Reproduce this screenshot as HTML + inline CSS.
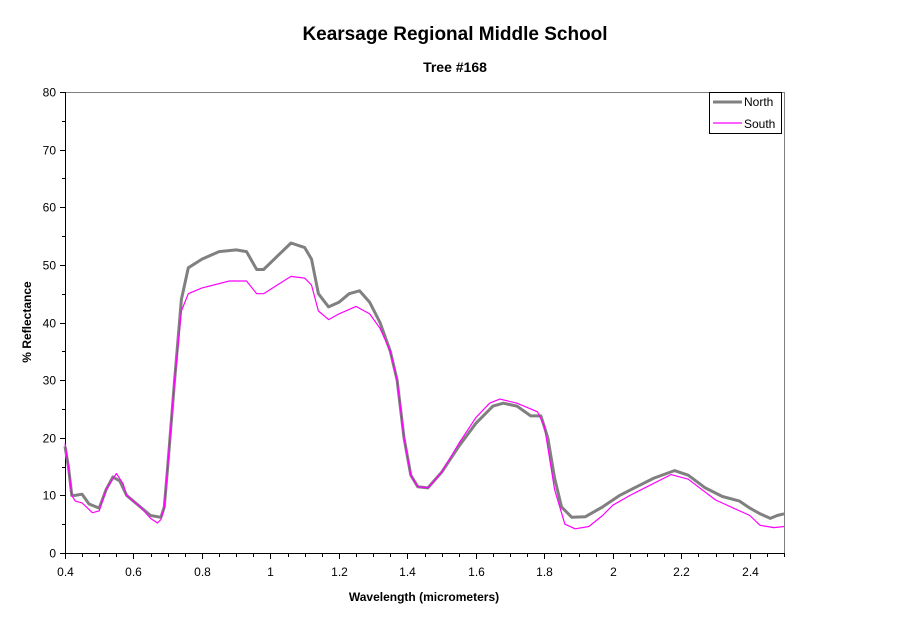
<!DOCTYPE html>
<html><head><meta charset="utf-8"><style>
body{margin:0;background:#fff}
svg{display:block;font-family:"Liberation Sans",Arial,sans-serif}
</style></head><body>
<svg id="s" width="911" height="623" viewBox="0 0 911 623">
<rect width="911" height="623" fill="#fff"/>
<text x="455" y="40" text-anchor="middle" font-size="19" font-weight="bold">Kearsage Regional Middle School</text>
<text x="455" y="72" text-anchor="middle" font-size="14" font-weight="bold">Tree #168</text>
<text x="424" y="601" text-anchor="middle" font-size="12" font-weight="bold">Wavelength (micrometers)</text>
<text transform="translate(31,322) rotate(-90)" text-anchor="middle" font-size="12" font-weight="bold">% Reflectance</text>
<path d="M65 92.5H784.5V553" fill="none" stroke="#808080" stroke-width="1"/>
<g id="ax"></g>
<path id="n" fill="none" stroke="#808080" stroke-width="3" stroke-linejoin="round"/>
<path id="so" fill="none" stroke="#ff00ff" stroke-width="1.2" stroke-linejoin="round"/>
<rect x="709.5" y="92.5" width="72" height="41" fill="#fff" stroke="#000"/>
<line x1="713" y1="102" x2="742" y2="102" stroke="#808080" stroke-width="3"/>
<line x1="713" y1="123" x2="742" y2="123" stroke="#ff00ff" stroke-width="1.2"/>
<text x="744" y="106" font-size="12">North</text>
<text x="744" y="128" font-size="12">South</text>
</svg>
<script>
var X=function(w){return 65+(w-0.4)*342.4},Y=function(v){return 553-v*5.7625};
var ax='<path d="M65.5 92V553.5H784" fill="none" stroke="#000"/>';
for(var v=0;v<=80;v+=5){var y=Math.round(Y(v))+0.5;ax+='<line x1="'+(v%10?62:60)+'" y1="'+y+'" x2="65" y2="'+y+'" stroke="#000"/>';if(v%10==0)ax+='<text x="56" y="'+(y+4)+'" text-anchor="end" font-size="12">'+v+'</text>';}
for(var i=0;i<=42;i++){var w=0.4+i*0.05,x=Math.round(X(w))+0.5;ax+='<line x1="'+x+'" y1="553" x2="'+x+'" y2="'+(i%4?557:559)+'" stroke="#000"/>';if(i%4==0){var t=(Math.round(w*10)/10).toString();ax+='<text x="'+x+'" y="576" text-anchor="middle" font-size="12">'+t+'</text>';}}
document.getElementById('ax').innerHTML=ax;
var N=[[0.40,18.5],[0.41,15],[0.42,10],[0.43,10],[0.45,10.2],[0.47,8.5],[0.50,7.8],[0.52,11],[0.54,13.2],[0.56,12.5],[0.58,10],[0.62,8],[0.65,6.5],[0.68,6.2],[0.69,8],[0.70,15],[0.72,30],[0.74,44],[0.76,49.5],[0.80,51],[0.85,52.3],[0.90,52.6],[0.93,52.3],[0.96,49.2],[0.98,49.2],[1.02,51.5],[1.06,53.8],[1.10,53],[1.12,51],[1.14,45],[1.17,42.7],[1.20,43.5],[1.23,45],[1.26,45.5],[1.29,43.5],[1.32,40],[1.35,35],[1.37,30],[1.39,20],[1.41,13.5],[1.43,11.5],[1.46,11.3],[1.50,14],[1.55,18.5],[1.60,22.5],[1.65,25.5],[1.68,26],[1.72,25.5],[1.76,23.8],[1.79,23.8],[1.81,20],[1.83,13],[1.85,8],[1.88,6.2],[1.92,6.3],[1.97,8],[2.02,10],[2.07,11.5],[2.12,13],[2.18,14.3],[2.22,13.5],[2.27,11.3],[2.32,9.8],[2.37,9],[2.40,7.8],[2.43,6.8],[2.46,6],[2.48,6.5],[2.5,6.8]];
var S=[[0.40,19],[0.41,15],[0.42,10],[0.43,9],[0.45,8.7],[0.48,7],[0.50,7.3],[0.52,11],[0.55,13.8],[0.57,12],[0.58,10],[0.62,8],[0.65,6],[0.67,5.2],[0.68,5.8],[0.69,8],[0.70,15],[0.72,30],[0.74,42],[0.76,45],[0.80,46],[0.88,47.2],[0.93,47.2],[0.96,45],[0.98,45],[1.02,46.5],[1.06,48],[1.10,47.7],[1.12,46.5],[1.14,42],[1.17,40.5],[1.20,41.5],[1.25,42.8],[1.29,41.5],[1.32,39],[1.35,35],[1.37,30],[1.39,20],[1.41,13.5],[1.43,11.5],[1.46,11.3],[1.50,14],[1.55,19],[1.60,23.5],[1.64,26],[1.67,26.7],[1.72,26],[1.78,24.5],[1.80,22],[1.83,11],[1.86,5],[1.89,4.2],[1.93,4.6],[1.97,6.5],[2.0,8.3],[2.05,10],[2.1,11.5],[2.17,13.6],[2.22,12.8],[2.3,9.2],[2.4,6.5],[2.43,4.8],[2.47,4.4],[2.5,4.6]];
function P(a){return a.map(function(p,i){return(i?'L':'M')+X(p[0]).toFixed(1)+' '+Y(p[1]).toFixed(1)}).join('')}
document.getElementById('n').setAttribute('d',P(N));
document.getElementById('so').setAttribute('d',P(S));
</script>
</body></html>
